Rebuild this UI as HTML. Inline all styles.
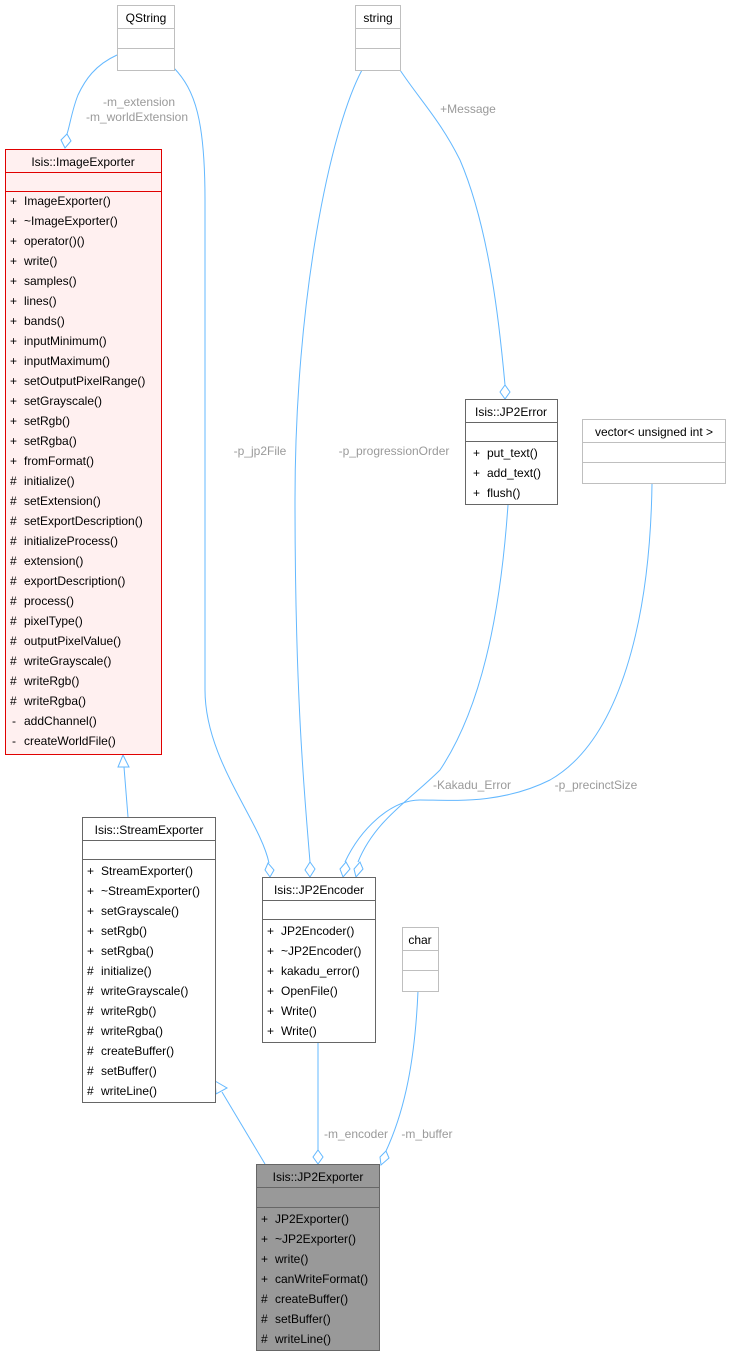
<!DOCTYPE html>
<html><head><meta charset="utf-8"><style>
html,body{margin:0;padding:0;background:#fff;}
svg{display:block;font-family:"Liberation Sans",Arial,sans-serif;font-size:12px;}
</style></head><body>
<svg width="731" height="1356" viewBox="0 0 731 1356" xmlns="http://www.w3.org/2000/svg">
<g fill="none" stroke="#63b8ff" stroke-width="1">
<path d="M117,55 C95,65 85,80 78,95 C72,110 70,125 67,134"/>
<path d="M174,68 C195,90 205,120 205,200 L205,690 C205,760 260,820 269,863"/>
<path d="M362,70 C330,130 295,300 295,500 C295,700 305,800 310,862"/>
<path d="M400,70 C420,100 440,120 460,160 C490,230 500,330 505,385"/>
<path d="M508,505 C500,620 480,710 440,770 C410,800 375,820 358,862"/>
<path d="M652,484 C650,620 620,740 550,780 C500,805 450,800 420,800 C390,800 360,830 345,862"/>
<path d="M128,817 L124,767"/>
<path d="M265,1164 L222,1092"/>
<path d="M318,1042 L318,1150"/>
<path d="M418,991 C415,1060 405,1110 386,1151"/>
</g>
<g fill="#fff" stroke="#63b8ff">
<polygon points="65,148 61,140 67,134 71,141"/>
<polygon points="270,877 265,870 268,863 274,870"/>
<polygon points="310,877 305,870 310,862 315,869"/>
<polygon points="505,399 500,392 505,385 510,392"/>
<polygon points="343,877 340,869 346,862 350,869"/>
<polygon points="356,877 354,869 360,862 363,869"/>
<polygon points="318,1164 313,1157 318,1150 323,1157"/>
<polygon points="381,1165 380,1157 386,1151 389,1158"/>
<polygon points="123,755 118,767 129,767"/>
<polygon points="215,1081 216,1094 227,1088"/>
</g>
<g fill="#9a9a9a" text-anchor="middle">
<text x="139" y="106">-m_extension</text>
<text x="137" y="121">-m_worldExtension</text>
<text x="260" y="455">-p_jp2File</text>
<text x="394" y="455">-p_progressionOrder</text>
<text x="468" y="113">+Message</text>
<text x="472" y="789">-Kakadu_Error</text>
<text x="596" y="789">-p_precinctSize</text>
<text x="356" y="1138">-m_encoder</text>
<text x="427" y="1138">-m_buffer</text>
</g>
<g stroke="#bfbfbf" fill="#fff"><rect x="117.5" y="5.5" width="57" height="65"/><line x1="117" y1="28.5" x2="175" y2="28.5"/><line x1="117" y1="48.5" x2="175" y2="48.5"/></g>
<text x="146" y="22" text-anchor="middle">QString</text>
<g stroke="#bfbfbf" fill="#fff"><rect x="355.5" y="5.5" width="45" height="65"/><line x1="355" y1="28.5" x2="401" y2="28.5"/><line x1="355" y1="48.5" x2="401" y2="48.5"/></g>
<text x="378" y="22" text-anchor="middle">string</text>
<g stroke="#e00000" fill="#fff0f0"><rect x="5.5" y="149.5" width="156" height="605"/><line x1="5" y1="172.5" x2="162" y2="172.5"/><line x1="5" y1="191.5" x2="162" y2="191.5"/></g>
<text x="83" y="166" text-anchor="middle">Isis::ImageExporter</text>
<g>
<text x="10" y="205">+</text><text x="24" y="205">ImageExporter()</text>
<text x="10" y="225">+</text><text x="24" y="225">~ImageExporter()</text>
<text x="10" y="245">+</text><text x="24" y="245">operator()()</text>
<text x="10" y="265">+</text><text x="24" y="265">write()</text>
<text x="10" y="285">+</text><text x="24" y="285">samples()</text>
<text x="10" y="305">+</text><text x="24" y="305">lines()</text>
<text x="10" y="325">+</text><text x="24" y="325">bands()</text>
<text x="10" y="345">+</text><text x="24" y="345">inputMinimum()</text>
<text x="10" y="365">+</text><text x="24" y="365">inputMaximum()</text>
<text x="10" y="385">+</text><text x="24" y="385">setOutputPixelRange()</text>
<text x="10" y="405">+</text><text x="24" y="405">setGrayscale()</text>
<text x="10" y="425">+</text><text x="24" y="425">setRgb()</text>
<text x="10" y="445">+</text><text x="24" y="445">setRgba()</text>
<text x="10" y="465">+</text><text x="24" y="465">fromFormat()</text>
<text x="10" y="485">#</text><text x="24" y="485">initialize()</text>
<text x="10" y="505">#</text><text x="24" y="505">setExtension()</text>
<text x="10" y="525">#</text><text x="24" y="525">setExportDescription()</text>
<text x="10" y="545">#</text><text x="24" y="545">initializeProcess()</text>
<text x="10" y="565">#</text><text x="24" y="565">extension()</text>
<text x="10" y="585">#</text><text x="24" y="585">exportDescription()</text>
<text x="10" y="605">#</text><text x="24" y="605">process()</text>
<text x="10" y="625">#</text><text x="24" y="625">pixelType()</text>
<text x="10" y="645">#</text><text x="24" y="645">outputPixelValue()</text>
<text x="10" y="665">#</text><text x="24" y="665">writeGrayscale()</text>
<text x="10" y="685">#</text><text x="24" y="685">writeRgb()</text>
<text x="10" y="705">#</text><text x="24" y="705">writeRgba()</text>
<text x="12" y="725">-</text><text x="24" y="725">addChannel()</text>
<text x="12" y="745">-</text><text x="24" y="745">createWorldFile()</text>
</g>
<g stroke="#666" fill="#fff"><rect x="82.5" y="817.5" width="133" height="285"/><line x1="82" y1="840.5" x2="216" y2="840.5"/><line x1="82" y1="859.5" x2="216" y2="859.5"/></g>
<text x="149" y="834" text-anchor="middle">Isis::StreamExporter</text>
<g>
<text x="87" y="875">+</text><text x="101" y="875">StreamExporter()</text>
<text x="87" y="895">+</text><text x="101" y="895">~StreamExporter()</text>
<text x="87" y="915">+</text><text x="101" y="915">setGrayscale()</text>
<text x="87" y="935">+</text><text x="101" y="935">setRgb()</text>
<text x="87" y="955">+</text><text x="101" y="955">setRgba()</text>
<text x="87" y="975">#</text><text x="101" y="975">initialize()</text>
<text x="87" y="995">#</text><text x="101" y="995">writeGrayscale()</text>
<text x="87" y="1015">#</text><text x="101" y="1015">writeRgb()</text>
<text x="87" y="1035">#</text><text x="101" y="1035">writeRgba()</text>
<text x="87" y="1055">#</text><text x="101" y="1055">createBuffer()</text>
<text x="87" y="1075">#</text><text x="101" y="1075">setBuffer()</text>
<text x="87" y="1095">#</text><text x="101" y="1095">writeLine()</text>
</g>
<g stroke="#666" fill="#fff"><rect x="262.5" y="877.5" width="113" height="165"/><line x1="262" y1="900.5" x2="376" y2="900.5"/><line x1="262" y1="919.5" x2="376" y2="919.5"/></g>
<text x="319" y="894" text-anchor="middle">Isis::JP2Encoder</text>
<g>
<text x="267" y="935">+</text><text x="281" y="935">JP2Encoder()</text>
<text x="267" y="955">+</text><text x="281" y="955">~JP2Encoder()</text>
<text x="267" y="975">+</text><text x="281" y="975">kakadu_error()</text>
<text x="267" y="995">+</text><text x="281" y="995">OpenFile()</text>
<text x="267" y="1015">+</text><text x="281" y="1015">Write()</text>
<text x="267" y="1035">+</text><text x="281" y="1035">Write()</text>
</g>
<g stroke="#bfbfbf" fill="#fff"><rect x="402.5" y="927.5" width="36" height="64"/><line x1="402" y1="950.5" x2="439" y2="950.5"/><line x1="402" y1="970.5" x2="439" y2="970.5"/></g>
<text x="420" y="944" text-anchor="middle">char</text>
<g stroke="#666" fill="#fff"><rect x="465.5" y="399.5" width="92" height="105"/><line x1="465" y1="422.5" x2="558" y2="422.5"/><line x1="465" y1="441.5" x2="558" y2="441.5"/></g>
<text x="511" y="416" text-anchor="middle">Isis::JP2Error</text>
<text x="473" y="457">+</text><text x="487" y="457">put_text()</text>
<text x="473" y="477">+</text><text x="487" y="477">add_text()</text>
<text x="473" y="497">+</text><text x="487" y="497">flush()</text>
<g stroke="#bfbfbf" fill="#fff"><rect x="582.5" y="419.5" width="143" height="64"/><line x1="582" y1="442.5" x2="726" y2="442.5"/><line x1="582" y1="462.5" x2="726" y2="462.5"/></g>
<text x="654" y="436" text-anchor="middle">vector&lt; unsigned int &gt;</text>
<g stroke="#666" fill="#999"><rect x="256.5" y="1164.5" width="123" height="186"/><line x1="256" y1="1187.5" x2="380" y2="1187.5"/><line x1="256" y1="1207.5" x2="380" y2="1207.5"/></g>
<text x="318" y="1181" text-anchor="middle">Isis::JP2Exporter</text>
<g>
<text x="261" y="1223">+</text><text x="275" y="1223">JP2Exporter()</text>
<text x="261" y="1243">+</text><text x="275" y="1243">~JP2Exporter()</text>
<text x="261" y="1263">+</text><text x="275" y="1263">write()</text>
<text x="261" y="1283">+</text><text x="275" y="1283">canWriteFormat()</text>
<text x="261" y="1303">#</text><text x="275" y="1303">createBuffer()</text>
<text x="261" y="1323">#</text><text x="275" y="1323">setBuffer()</text>
<text x="261" y="1343">#</text><text x="275" y="1343">writeLine()</text>
</g>
</svg>
</body></html>
